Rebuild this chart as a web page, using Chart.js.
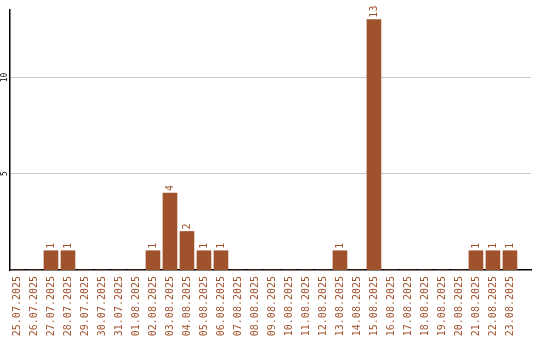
<!DOCTYPE html>
<html>
<head>
<meta charset="utf-8">
<script src="https://cdn.jsdelivr.net/npm/chart.js@4"></script>
<style>
html,body{margin:0;padding:0;background:#fff;}
#wrap{width:540px;height:340px;position:relative;}
</style>
</head>
<body>
<div id="wrap"><canvas id="c" width="540" height="340"></canvas></div>
<script>
const categories = ["25.07.2025","26.07.2025","27.07.2025","28.07.2025","29.07.2025","30.07.2025","31.07.2025","01.08.2025","02.08.2025","03.08.2025","04.08.2025","05.08.2025","06.08.2025","07.08.2025","08.08.2025","09.08.2025","10.08.2025","11.08.2025","12.08.2025","13.08.2025","14.08.2025","15.08.2025","16.08.2025","17.08.2025","18.08.2025","19.08.2025","20.08.2025","21.08.2025","22.08.2025","23.08.2025"];
const counts = [0,0,1,1,0,0,0,0,1,4,2,1,1,0,0,0,0,0,0,1,0,13,0,0,0,0,0,1,1,1];
const yTicks = [5, 10];

const BROWN = '#A0522D';
const points = categories.map((c, i) => ({x: i, y: counts[i]}));

const valueLabels = {
  id: 'valueLabels',
  afterDatasetsDraw(chart) {
    const ctx = chart.ctx;
    const meta = chart.getDatasetMeta(0);
    ctx.save();
    ctx.fillStyle = BROWN;
    ctx.font = '10px "DejaVu Sans Mono", monospace';
    ctx.textAlign = 'left';
    ctx.textBaseline = 'middle';
    meta.data.forEach((bar, i) => {
      const v = counts[i];
      if (!v) return;
      ctx.save();
      ctx.translate(bar.x, bar.y - 2);
      ctx.rotate(-Math.PI / 2);
      ctx.fillText(String(v), 0, 0);
      ctx.restore();
    });
    ctx.restore();
  }
};

new Chart(document.getElementById('c'), {
  type: 'bar',
  data: {
    datasets: [{
      data: points,
      backgroundColor: BROWN,
      borderWidth: 0,
      barThickness: 14
    }]
  },
  options: {
    responsive: false,
    animation: false,
    devicePixelRatio: 1,
    layout: {padding: {top: 10, right: 9, left: 0, bottom: 0}},
    plugins: {legend: {display: false}, tooltip: {enabled: false}},
    scales: {
      x: {
        type: 'linear',
        offset: false,
        min: -0.41,
        max: 30.24,
        afterFit(s) { s.height = 70; s.paddingLeft = 0; s.paddingRight = 0; },
        afterBuildTicks(s) { s.ticks = categories.map((c, i) => ({value: i})); },
        grid: {display: false, drawTicks: false},
        border: {display: true, color: '#000', width: 1.5},
        ticks: {
          autoSkip: false,
          minRotation: 90,
          maxRotation: 90,
          padding: 6,
          color: BROWN,
          font: {family: '"DejaVu Sans Mono", monospace', size: 10},
          callback: (v) => categories[v] ?? ''
        }
      },
      y: {
        min: 0,
        max: 13.5,
        afterFit(s) { s.width = 10; },
        afterBuildTicks(s) { s.ticks = yTicks.map(v => ({value: v})); },
        grid: {color: '#c8c8c8', lineWidth: 1, drawTicks: false},
        border: {display: true, color: '#000', width: 1.5},
        ticks: {
          minRotation: 90,
          maxRotation: 90,
          crossAlign: 'center',
          padding: 0,
          color: '#000',
          font: {family: '"DejaVu Sans Mono", monospace', size: 8}
        }
      }
    }
  },
  plugins: [valueLabels]
});
</script>
</body>
</html>
